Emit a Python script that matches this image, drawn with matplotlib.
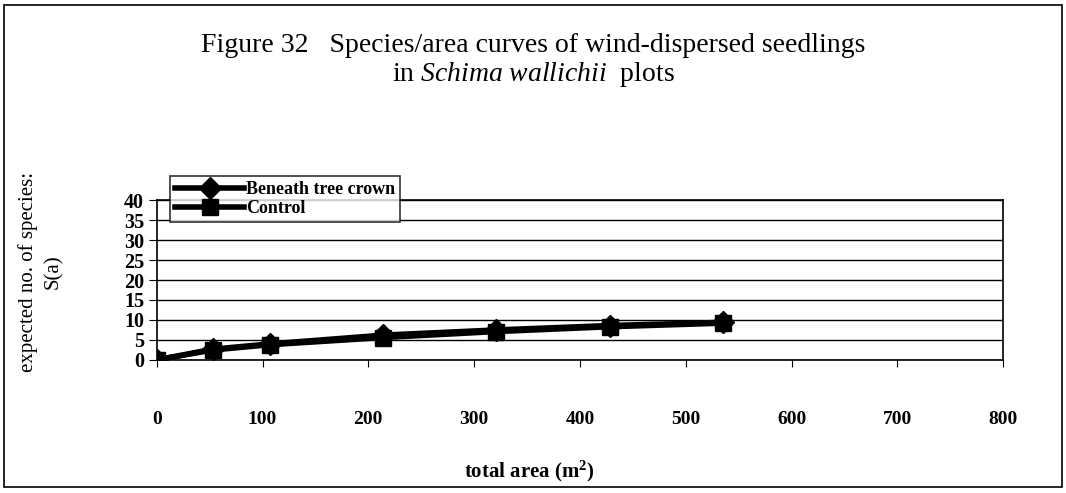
import numpy as np
import matplotlib
matplotlib.use('Agg')
import matplotlib.pyplot as plt
from matplotlib.patches import Rectangle

plt.rcParams['font.family'] = ['Liberation Serif', 'DejaVu Serif']
plt.rcParams['mathtext.fontset'] = 'custom'
plt.rcParams['mathtext.rm'] = 'Liberation Serif'
plt.rcParams['mathtext.it'] = 'Liberation Serif:italic'
plt.rcParams['mathtext.bf'] = 'Liberation Serif:bold'

# Data #
area = [0, 53.5, 107, 214, 321, 428, 535]
beneath = [0, 2.7, 4.0, 6.2, 7.5, 8.6, 9.4]
control = [0, 2.5, 3.8, 5.6, 7.1, 8.3, 9.2]
yticks = [0, 5, 10, 15, 20, 25, 30, 35, 40]
xticks = [0, 100, 200, 300, 400, 500, 600, 700, 800]

fig = plt.figure(figsize=(10.66, 4.93), dpi=100)
ax = fig.add_axes([0.147, 0.270, 0.794, 0.324])

ax.plot(area, beneath, c='k', lw=4, marker='D', ms=11, label='Beneath tree crown')
ax.plot(area, control, c='k', lw=4, marker='s', ms=12, label='Control')

ax.set_xlim(0, 800)
ax.set_ylim(0, 40)
ax.set_xticks(xticks)
ax.set_yticks(yticks)
ax.yaxis.grid(True, color='k', lw=1)
ax.set_axisbelow(True)
for s in ax.spines.values():
    s.set_linewidth(1.2)
ax.tick_params(axis='x', direction='out', length=5, pad=32, labelsize=14)
ax.tick_params(axis='y', direction='out', length=6, pad=3, labelsize=14.5)
for lab in ax.get_xticklabels() + ax.get_yticklabels():
    lab.set_fontweight('bold')

ax.set_xlabel('total area (m$^\\mathbf{2}$)', fontsize=15, fontweight='bold')
ax.xaxis.set_label_coords(0.44, -0.62)
ax.set_ylabel('expected no. of species:\nS(a)', fontsize=15, linespacing=1.45)
ax.yaxis.set_label_coords(-0.11, 0.55)

leg = ax.legend(loc='upper left', bbox_to_anchor=(0.005, 1.21), fontsize=13,
                frameon=True, fancybox=False, edgecolor='k', handlelength=3.8,
                handletextpad=0.1, borderpad=0.3, labelspacing=0.1)
leg.get_frame().set_linewidth(1.2)
for t in leg.get_texts():
    t.set_fontweight('bold')

fig.text(0.5, 0.895, 'Figure 32   Species/area curves of wind-dispersed seedlings',
         ha='center', fontsize=20)
fig.text(0.5, 0.835, 'in $\\it{Schima\\ wallichii}$  plots', ha='center', fontsize=20)

fig.patches.append(Rectangle((0.004, 0.012), 0.992, 0.978, transform=fig.transFigure,
                             fill=False, ec='k', lw=1.2))

fig.savefig('out.png', dpi=100)
